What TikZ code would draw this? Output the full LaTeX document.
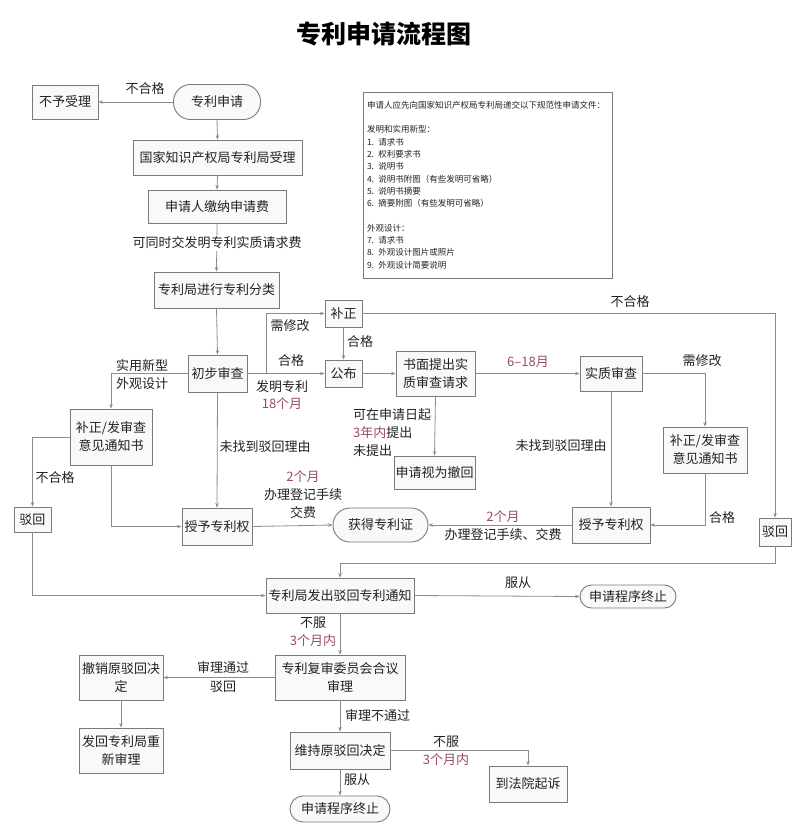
\documentclass[tikz,border=0pt]{standalone}
\usepackage{fontspec}
\setmainfont{Noto Sans CJK SC}
\usetikzlibrary{arrows.meta}
\definecolor{linec}{HTML}{8C8C8C}
\definecolor{boxc}{HTML}{7A7A7A}
\definecolor{boxf}{HTML}{F8F9FA}
\definecolor{txt}{HTML}{222222}
\definecolor{mar}{HTML}{9A4D5D}
\tikzset{
 bx/.style={draw=boxc, fill=boxf, line width=0.9pt, align=center, inner sep=0pt, text=txt, font=\fontsize{13}{18}\selectfont},
 lbl/.style={inner sep=0pt, text=txt, align=center, font=\fontsize{13}{18}\selectfont},
 mlbl/.style={lbl, text=mar},
 arr/.style={draw=linec, line width=0.8pt, -{Stealth[length=4.5pt,width=3.5pt]}},
 ln/.style={draw=linec, line width=0.8pt},
}
\begin{document}
\begin{tikzpicture}[x=1pt,y=-1pt]
\useasboundingbox (0,0) rectangle (800,840);
\fill[white] (0,0) rectangle (800,840);

% title
\node[lbl, font=\fontsize{25}{30}\selectfont\bfseries, text=black] (title) at (384,34) {专利申请流程图};

% nodes
\node[bx, minimum width=66pt, minimum height=34pt] (nores) at (65,102) {不予受理};
\node[bx, minimum width=87pt, minimum height=35pt, rounded corners=17pt] (apply) at (217,102) {专利申请};
\node[bx, minimum width=169pt, minimum height=35pt] (accept) at (217.5,157.5) {国家知识产权局专利局受理};
\node[bx, minimum width=138pt, minimum height=33pt] (fee) at (217,206.5) {申请人缴纳申请费};
\node[bx, minimum width=125pt, minimum height=36pt] (classify) at (216.5,290) {专利局进行专利分类};

\node[draw=boxc, fill=white, line width=0.9pt, minimum width=249pt, minimum height=186pt, inner sep=4pt, text width=241pt, align=left, text=txt, font=\fontsize{8.5}{12.3}\selectfont] (docs) at (487.5,185) {申请人应先向国家知识产权局专利局递交以下规范性申请文件：\\[12.3pt]
发明和实用新型：\\
1. 请求书\\
2. 权利要求书\\
3. 说明书\\
4. 说明书附图（有些发明可省略）\\
5. 说明书摘要\\
6. 摘要附图（有些发明可省略）\\[12.3pt]
外观设计：\\
7. 请求书\\
8. 外观设计图片或照片\\
9. 外观设计简要说明};

\node[bx, minimum width=59pt, minimum height=37pt] (prelim) at (217.5,373.5) {初步审查};
\node[bx, minimum width=37pt, minimum height=27pt] (fix1) at (343.5,313.5) {补正};
\node[bx, minimum width=37pt, minimum height=27pt] (pub) at (343.5,373.5) {公布};
\node[bx, minimum width=79pt, minimum height=45pt] (req) at (435.5,373.5) {书面提出实\\质审查请求};
\node[bx, minimum width=81pt, minimum height=33pt] (withdraw) at (434.5,472.5) {申请视为撤回};
\node[bx, minimum width=62pt, minimum height=35pt] (subst) at (611,373.5) {实质审查};
\node[bx, minimum width=84pt, minimum height=46pt] (fix2) at (705,450) {补正/发审查\\意见通知书};
\node[bx, minimum width=78pt, minimum height=36pt] (grant2) at (611,525) {授予专利权};
\node[bx, minimum width=95pt, minimum height=34pt, rounded corners=17pt] (cert) at (380.5,525) {获得专利证};
\node[bx, minimum width=70pt, minimum height=37pt] (grant1) at (217,526.5) {授予专利权};
\node[bx, minimum width=82pt, minimum height=56pt] (fix3) at (111,437) {补正/发审查\\意见通知书};
\node[bx, minimum width=37pt, minimum height=25pt] (rej1) at (32.5,519.5) {驳回};
\node[bx, minimum width=32pt, minimum height=28pt] (rej2) at (775,532) {驳回};
\node[bx, minimum width=148pt, minimum height=35pt] (notice) at (340,595.5) {专利局发出驳回专利通知};
\node[bx, minimum width=96pt, minimum height=23pt, rounded corners=11.5pt] (end1) at (628,596.5) {申请程序终止};
\node[bx, minimum width=130pt, minimum height=45pt] (review) at (340,677.5) {专利复审委员会合议\\审理};
\node[bx, minimum width=84pt, minimum height=45pt] (revoke) at (121,677.5) {撤销原驳回决\\定};
\node[bx, minimum width=84pt, minimum height=45pt] (remand) at (121,750.5) {发回专利局重\\新审理};
\node[bx, minimum width=100pt, minimum height=37pt] (keep) at (340,750.5) {维持原驳回决定};
\node[bx, minimum width=100pt, minimum height=26pt, rounded corners=13pt] (end2) at (340,809) {申请程序终止};
\node[bx, minimum width=78pt, minimum height=36pt] (court) at (528,784) {到法院起诉};

\coordinate (br1) at (266,373.5);
\coordinate (j2) at (340,563);

% connectors
\draw[arr] (apply.west) -- (nores.east);
\draw[arr] (apply.south) -- (accept.north);
\draw[arr] (accept.south) -- (fee.north);
\draw[arr] (fee.south) -- (classify.north);
\draw[arr] (classify.south) -- (prelim.north);
\draw[arr] (prelim.east) -- (pub.west);
\draw[arr] (br1) |- (fix1.west);
\draw[arr] (fix1.south) -- (pub.north);
\draw[arr] (fix1.east) -| (rej2.north);
\draw[arr] (pub.east) -- (req.west);
\draw[arr] (req.east) -- (subst.west);
\draw[arr] (req.south) -- (withdraw.north);
\draw[arr] (subst.east) -| (fix2.north);
\draw[arr] (subst.south) -- (grant2.north);
\draw[arr] (fix2.south) |- (grant2.east);
\draw[arr] (grant2.west) -- (cert.east);
\draw[arr] (grant1.east) -- (cert.west);
\draw[arr] (prelim.south) -- (grant1.north);
\draw[arr] (prelim.west) -| (fix3.north);
\draw[arr] (fix3.south) |- (grant1.west);
\draw[arr] (fix3.west) -| (rej1.north);
\draw[arr] (rej1.south) |- (notice.west);
\draw[arr] (rej2.south) |- (j2) -- (notice.north);
\draw[arr] (notice.east) -- (end1.west);
\draw[arr] (notice.south) -- (review.north);
\draw[arr] (review.west) -- (revoke.east);
\draw[arr] (revoke.south) -- (remand.north);
\draw[arr] (review.south) -- (keep.north);
\draw[arr] (keep.south) -- (end2.north);
\draw[arr] (keep.east) -| (court.north);

% labels
\node[lbl] (l1) at (145,89) {不合格};
\node[lbl, fill=white, inner sep=2pt] (l2) at (217,243) {可同时交发明专利实质请求费};
\node[lbl] (l3) at (290,326) {需修改};
\node[lbl] (l4) at (291,361) {合格};
\node[lbl] (l5) at (282,387) {发明专利};
\node[mlbl] (l6) at (282,404) {18个月};
\node[lbl] (l7) at (360,342) {合格};
\node[lbl] (l8) at (630,302) {不合格};
\node[lbl, align=left, anchor=west] (l9) at (353,432.5) {可在申请日起\\{\color{mar}3年内}提出\\未提出};
\node[mlbl] (l10) at (528,362) {6–18月};
\node[lbl] (l11) at (702,361) {需修改};
\node[lbl] (l12) at (561,446) {未找到驳回理由};
\node[lbl] (l13) at (722,518) {合格};
\node[mlbl] (l14) at (503,517) {2个月};
\node[lbl] (l15) at (503,535) {办理登记手续、交费};
\node[lbl] (l16) at (303,495) {{\color{mar}2个月}\\办理登记手续\\交费};
\node[lbl] (l17) at (265,447) {未找到驳回理由};
\node[lbl, align=left, anchor=west] (l18) at (116,374.5) {实用新型\\外观设计};
\node[lbl] (l19) at (55,478) {不合格};
\node[lbl] (l20) at (518,583) {服从};
\node[lbl] (l21) at (313,623) {不服};
\node[mlbl] (l22) at (313,641) {3个月内};
\node[lbl] (l23) at (223,677) {审理通过\\驳回};
\node[lbl, anchor=west] (l24) at (345,715) {审理不通过};
\node[lbl] (l25) at (357,780) {服从};
\node[lbl] (l26) at (446,742) {不服};
\node[mlbl] (l27) at (446,760) {3个月内};
\end{tikzpicture}
\end{document}
